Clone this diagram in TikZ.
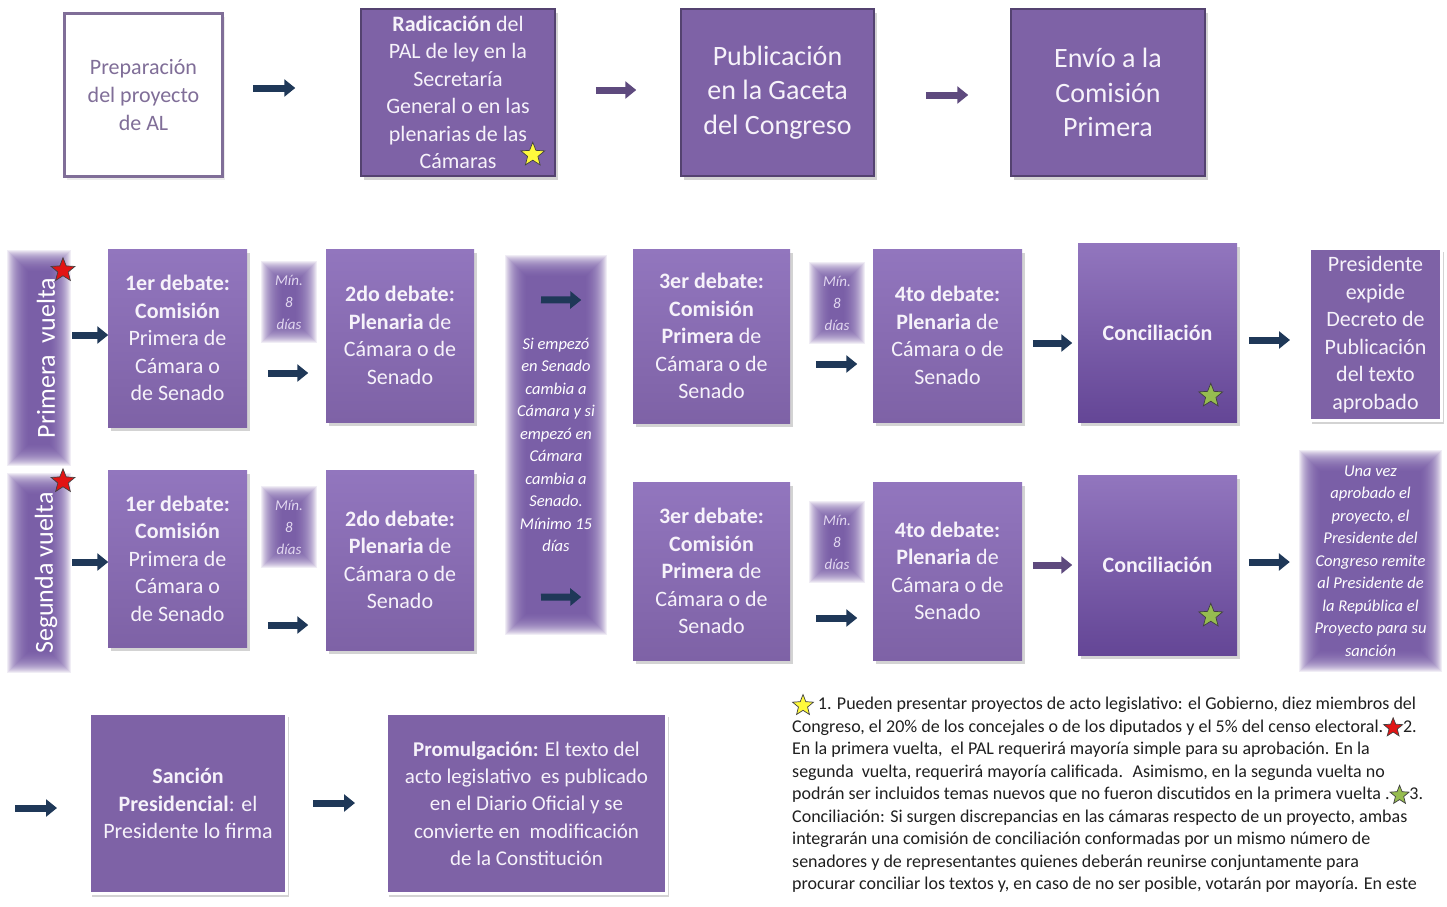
\documentclass[tikz,border=0pt]{standalone}
\usepackage{fontspec}
\setmainfont{Carlito}
\usetikzlibrary{arrows.meta,shapes.geometric,shadows,backgrounds}
\definecolor{morado}{RGB}{126,98,166}
\definecolor{moradoclaro}{RGB}{146,118,190}
\definecolor{moradoosc}{RGB}{100,70,150}
\definecolor{borde}{RGB}{84,66,112}
\definecolor{brilloc}{RGB}{108,78,158}
\definecolor{azulf}{RGB}{31,56,88}
\definecolor{morflecha}{RGB}{94,74,126}
\definecolor{textoc}{RGB}{246,242,250}
\definecolor{grism}{RGB}{128,110,152}
\definecolor{lila}{RGB}{226,216,240}
\definecolor{amarillo}{RGB}{255,250,60}
\definecolor{rojo}{RGB}{225,20,20}
\definecolor{verde}{RGB}{150,188,80}

\tikzset{
  caja/.style={draw=borde, line width=1.5pt, fill=morado, text=textoc, align=center, inner sep=0pt,
    font=\fontsize{22}{27.5}\selectfont, drop shadow={opacity=.35,shadow xshift=2.5pt,shadow yshift=-3.5pt}},
  debate/.style={caja, draw=none, top color=moradoclaro, bottom color=morado},
  concil/.style={caja, draw=none, top color=moradoclaro, bottom color=moradoosc},
  marco/.style={caja, draw=white, line width=3pt},
  brillo/.style={inner sep=0pt, text=white, align=center, font=\itshape\fontsize{16.5}{22.5}\selectfont},
  minbox/.style={brillo, text=lila, font=\itshape\fontsize{15}{22}\selectfont, minimum width=34pt, minimum height=60pt},
  flecha/.style={line width=7pt, -{Triangle[length=11pt,width=17pt]}, azulf},
  flechamor/.style={flecha, morflecha},
  estrella/.style={star, star points=5, star point ratio=2.3, inner sep=0pt, minimum size=25pt, draw=black!75, line width=.7pt}
}
\newcommand\estr[3]{\tikz[baseline=-.45em]\node[estrella, fill=#1, minimum size=#3] (#2) {};}

\begin{document}
\begin{tikzpicture}[x=1pt,y=-1pt]
\useasboundingbox (0,0) rectangle (1447,906);

\node[draw=grism, line width=3pt, fill=white, minimum width=158pt, minimum height=163pt, text=grism, align=center,
  font=\fontsize{22}{27.5}\selectfont, drop shadow={opacity=.15,shadow xshift=2pt,shadow yshift=-3pt}] (prep) at (143.5,95) {Preparación\\del proyecto\\de AL};
\node[caja, minimum width=194pt, minimum height=167pt] (rad) at (458,92.5) {\textbf{Radicación} del\\PAL de ley en la\\Secretaría\\General o en las\\plenarias de las\\Cámaras};
\node[caja, minimum width=193pt, minimum height=167pt, font=\fontsize{28}{34.5}\selectfont] (pub) at (777.5,92.5) {Publicación\\en la Gaceta\\del Congreso};
\node[caja, minimum width=194pt, minimum height=167pt, font=\fontsize{28}{34.5}\selectfont] (env) at (1108,92.5) {Envío a la\\Comisión\\Primera};
\node[estrella, fill=amarillo] (st0) at ([shift={(-23,-22)}]rad.south east) {};

\draw[flecha] ([shift={(29,-7)}]prep.east) -- ([shift={(-65,-4.5)}]rad.west);
\draw[flechamor] ([shift={(40,-2.5)}]rad.east) -- ([shift={(-44,-2.5)}]pub.west);
\draw[flechamor] ([shift={(51,2.5)}]pub.east) -- ([shift={(-42,2.5)}]env.west);

% primera vuelta
\node[brillo, minimum width=42pt, minimum height=193pt] (pv) at (39,358) {};
\node[rotate=90, text=white, font=\fontsize{26}{30}\selectfont] (pvt) at ([xshift=7]pv.center) {Primera\ \ vuelta};
\node[estrella, fill=rojo] (st1) at ([shift={(24,9)}]pv.north) {};
\node[debate, minimum width=139pt, minimum height=178pt] (d1a) at (177.5,338) {\textbf{1er debate:}\\\textbf{Comisión}\\Primera de\\Cámara o\\de Senado};
\node[minbox] (m1a) at (289,302) {Mín.\\8\\días};
\node[debate, minimum width=148pt, minimum height=173pt] (d2a) at (400,335.5) {\textbf{2do debate:}\\\textbf{Plenaria} de\\Cámara o de\\Senado};
\node[brillo, minimum width=80pt, minimum height=358pt] (mid) at (556,445) {Si empezó\\en Senado\\cambia a\\Cámara y si\\empezó en\\Cámara\\cambia a\\Senado.\\Mínimo 15\\días};
\node[debate, minimum width=157pt, minimum height=174pt] (d3a) at (711.5,336) {\textbf{3er debate:}\\\textbf{Comisión}\\\textbf{Primera} de\\Cámara o de\\Senado};
\node[minbox] (m3a) at (837,303) {Mín.\\8\\días};
\node[debate, minimum width=149pt, minimum height=173pt] (d4a) at (947.5,335.5) {\textbf{4to debate:}\\\textbf{Plenaria} de\\Cámara o de\\Senado};
\node[concil, minimum width=159pt, minimum height=179pt] (cona) at (1157.5,332.5) {\textbf{Conciliación}};
\node[estrella, fill=verde] (st2) at ([shift={(-27,-27)}]cona.south east) {};
\node[marco, minimum width=132pt, minimum height=172pt] (pres) at (1375.5,334.5) {Presidente\\expide\\Decreto de\\Publicación\\del texto\\aprobado};

\draw[flecha] ([shift={(12,-23)}]pv.east) -- ([shift={(1,-3)}]d1a.west);
\draw[flecha] ([shift={(20,35)}]d1a.east) -- ([shift={(-17,37.5)}]d2a.west);
\draw[flecha] ([shift={(-15,34)}]mid.north) -- ([shift={(-51,-36)}]d3a.west);
\draw[flecha] ([shift={(25,28)}]d3a.east) -- ([shift={(-15,28.5)}]d4a.west);
\draw[flecha] ([shift={(10,7.5)}]d4a.east) -- ([shift={(-5,10.5)}]cona.west);
\draw[flecha] ([shift={(11,7.5)}]cona.east) -- ([shift={(-18,5.5)}]pres.west);

% segunda vuelta
\node[brillo, minimum width=42pt, minimum height=177pt] (sv) at (39,573) {};
\node[rotate=90, text=white, font=\fontsize{26}{30}\selectfont] (svt) at ([xshift=7]sv.center) {Segunda vuelta};
\node[estrella, fill=rojo] (st3) at ([shift={(24,-3)}]sv.north) {};
\node[debate, minimum width=139pt, minimum height=177pt] (d1b) at (177.5,558.5) {\textbf{1er debate:}\\\textbf{Comisión}\\Primera de\\Cámara o\\de Senado};
\node[minbox] (m1b) at (289,527) {Mín.\\8\\días};
\node[debate, minimum width=148pt, minimum height=180pt] (d2b) at (400,560) {\textbf{2do debate:}\\\textbf{Plenaria} de\\Cámara o de\\Senado};
\node[debate, minimum width=157pt, minimum height=178pt] (d3b) at (711.5,571) {\textbf{3er debate:}\\\textbf{Comisión}\\\textbf{Primera} de\\Cámara o de\\Senado};
\node[minbox] (m3b) at (837,542) {Mín.\\8\\días};
\node[debate, minimum width=149pt, minimum height=178pt] (d4b) at (947.5,571) {\textbf{4to debate:}\\\textbf{Plenaria} de\\Cámara o de\\Senado};
\node[concil, minimum width=159pt, minimum height=180pt] (conb) at (1157.5,565) {\textbf{Conciliación}};
\node[estrella, fill=verde] (st4) at ([shift={(-27,-40)}]conb.south east) {};
\node[brillo, minimum width=120pt, minimum height=200pt] (unav) at (1370.5,561) {Una vez\\aprobado el\\proyecto, el\\Presidente del\\Congreso remite\\al Presidente de\\la República el\\Proyecto para su\\sanción};

\draw[flecha] ([shift={(12,-11)}]sv.east) -- ([shift={(1,3.5)}]d1b.west);
\draw[flecha] ([shift={(20,66.5)}]d1b.east) -- ([shift={(-17,65)}]d2b.west);
\draw[flecha] ([shift={(-15,-27)}]mid.south) -- ([shift={(-51,26)}]d3b.west);
\draw[flecha] ([shift={(25,47)}]d3b.east) -- ([shift={(-15,47)}]d4b.west);
\draw[flechamor] ([shift={(10,-6)}]d4b.east) -- ([shift={(-5,0)}]conb.west);
\draw[flecha] ([shift={(11,-3)}]conb.east) -- ([shift={(-20.5,1)}]unav.west);

% sancion y promulgacion
\coordinate (ini) at (15,808);
\node[marco, minimum width=197pt, minimum height=180pt] (sanc) at (188,803.5) {\textbf{Sanción}\\\textbf{Presidencial}: el\\Presidente lo firma};
\node[marco, minimum width=280pt, minimum height=180pt, font=\fontsize{21}{27.2}\selectfont] (prom) at (526.5,803.5) {\textbf{Promulgación:} El texto del\\acto legislativo \ es publicado\\en el Diario Oficial y se\\convierte en \ modificación\\de la Constitución};
\draw[flecha] (ini) -- ([shift={(-31,4.5)}]sanc.west);
\draw[flecha] ([shift={(25,-0.5)}]sanc.east) -- ([shift={(-30,-0.5)}]prom.west);

\node[anchor=north west, align=left, inner sep=0pt, text=black!88, font=\fontsize{18}{22.5}\selectfont] (nota) at (792,694)
  {\estr{amarillo}{n1}{22pt} 1. Pueden presentar proyectos de acto legislativo: el Gobierno, diez miembros del\\
   Congreso, el 20\% de los concejales o de los diputados y el 5\% del censo electoral.\estr{rojo}{n2}{20pt}2.\\
   En la primera vuelta, \ el PAL requerirá mayoría simple para su aprobación. En la\\
   segunda \ vuelta, requerirá mayoría calificada. \ Asimismo, en la segunda vuelta no\\
   podrán ser incluidos temas nuevos que no fueron discutidos en la primera vuelta .\estr{verde}{n3}{20pt}3.\\
   Conciliación: Si surgen discrepancias en las cámaras respecto de un proyecto, ambas\\
   integrarán una comisión de conciliación conformadas por un mismo número de\\
   senadores y de representantes quienes deberán reunirse conjuntamente para\\
   procurar conciliar los textos y, en caso de no ser posible, votarán por mayoría. En este};

\begin{scope}[on background layer]
\foreach \n in {pv,sv,m1a,m3a,m1b,m3b,mid,unav}
  \foreach \k in {-10,...,11}
    \fill[brilloc, opacity=.1] ([shift={(-\k,-\k)}]\n.north west) rectangle ([shift={(\k,\k)}]\n.south east);
\end{scope}
\end{tikzpicture}
\end{document}
